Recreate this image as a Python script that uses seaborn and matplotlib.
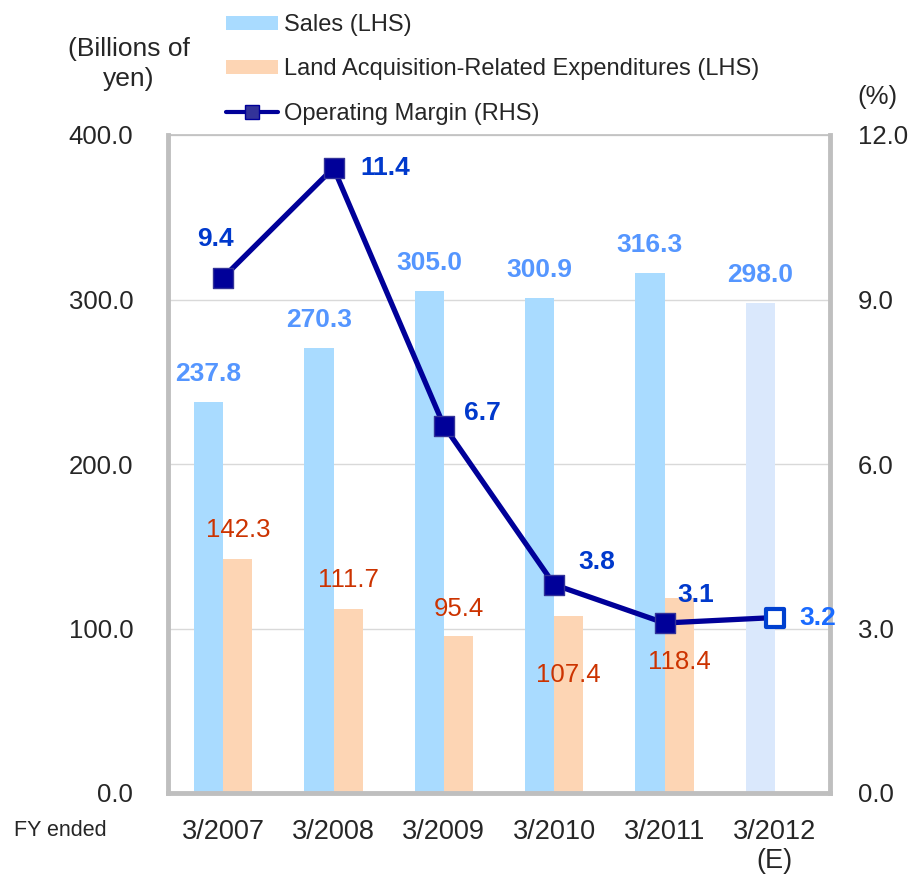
import numpy as np
import pandas as pd
import matplotlib
matplotlib.use('Agg')
import matplotlib.pyplot as plt
import seaborn as sns
from matplotlib.patches import Patch
from matplotlib.lines import Line2D

# values
fy = ['3/2007', '3/2008', '3/2009', '3/2010', '3/2011', '3/2012\n(E)']
sales = [237.8, 270.3, 305.0, 300.9, 316.3, 298.0]
land = [142.3, 111.7, 95.4, 107.4, 118.4, np.nan]
margin = [9.4, 11.4, 6.7, 3.8, 3.1, 3.2]

# label offsets in pixels (dx, dy) relative to the mark
land_dy = [29, 29, 27, -59, -64]
margin_off = [(-8, 39), (52, 0), (39, 13), (43, 23), (31, 28), (43, 0)]

SALES_C = '#A9DBFF'
SALES_E_C = '#DAE8FC'
LAND_C = '#FDD5B4'
LINE_C = '#000099'
GRID_C = '#BFBFBF'
PX = 0.72  # points per pixel at dpi 100


def main():
    sns.set_style('white')
    plt.rcParams['font.family'] = ['Liberation Sans', 'DejaVu Sans']

    df = pd.DataFrame({'fy': fy, 'Sales': sales, 'Land': land})
    long = df.melt(id_vars='fy', var_name='series', value_name='value')

    fig = plt.figure(figsize=(9.1, 8.77), dpi=100)
    ax = fig.add_axes([168 / 910, 1 - 793 / 877, 662 / 910, 658 / 877])

    sns.barplot(data=long, x='fy', y='value', hue='series', order=fy,
                hue_order=['Sales', 'Land'], palette=[SALES_C, LAND_C],
                width=0.53, saturation=1, linewidth=0, legend=False, ax=ax)

    sales_bars = ax.containers[0].patches
    land_bars = ax.containers[1].patches
    sales_bars[-1].set_facecolor(SALES_E_C)

    ax.set_ylim(0, 400)
    ax.set_xlim(-0.5, len(fy) - 0.5)
    ax.set_yticks([0, 100, 200, 300, 400])
    ax.set_yticklabels(['%.1f' % v for v in [0, 100, 200, 300, 400]])
    ax.set_xlabel('')
    ax.set_ylabel('')
    ax.grid(axis='y', color='#D9D9D9', linewidth=1)
    ax.set_axisbelow(True)

    pos = np.arange(len(fy))
    ax.set_xticks(pos)
    ax.set_xticklabels(fy, linespacing=1.15)
    ax.set_xticks(np.arange(-0.5, len(fy)), minor=True)
    ax.tick_params(axis='x', which='major', length=0, pad=19, labelsize=19.5)
    ax.tick_params(axis='x', which='minor', length=5, width=3, color=GRID_C)
    ax.tick_params(axis='y', length=0, pad=25, labelsize=18.5)

    for side in ['left', 'bottom']:
        ax.spines[side].set_color(GRID_C)
        ax.spines[side].set_linewidth(3.5)
    ax.spines['top'].set_color(GRID_C)
    ax.spines['top'].set_linewidth(1.2)
    ax.spines['right'].set_visible(False)

    # bar labels
    for p, v in zip(sales_bars, sales):
        ax.annotate('%.1f' % v, (p.get_x() + p.get_width() / 2, p.get_height()),
                    xytext=(0, 28 * PX), textcoords='offset points',
                    ha='center', va='center', fontsize=19,
                    fontweight='bold', color='#5596FF')
    for p, v, dy in zip(land_bars, land, land_dy):
        ax.annotate('%.1f' % v, (p.get_x() + p.get_width() / 2, p.get_height()),
                    xytext=(0, dy * PX), textcoords='offset points',
                    ha='center', va='center', fontsize=18.5, color='#CC3300')

    # operating margin on the right axis
    ax2 = ax.twinx()
    sns.lineplot(x=pos, y=margin, color=LINE_C, linewidth=3.8, ax=ax2)
    sns.scatterplot(x=pos[:-1], y=margin[:-1], marker='s', s=210,
                    color=LINE_C, edgecolor='#333399', linewidth=1,
                    zorder=4, ax=ax2)
    sns.scatterplot(x=pos[-1:], y=margin[-1:], marker='s', s=150,
                    color='white', edgecolor='#0040D0', linewidth=3,
                    zorder=4, ax=ax2)
    ax2.set_ylim(0, 12)
    ax2.set_yticks([0, 3, 6, 9, 12])
    ax2.set_yticklabels(['%.1f' % v for v in [0, 3, 6, 9, 12]])
    ax2.tick_params(axis='y', length=0, pad=20, labelsize=18.5)
    ax2.set_ylabel('')
    for side in ['left', 'bottom', 'top']:
        ax2.spines[side].set_visible(False)
    ax2.spines['right'].set_color(GRID_C)
    ax2.spines['right'].set_linewidth(3.5)

    for i, (x, v) in enumerate(zip(pos, margin)):
        dx, dy = margin_off[i]
        col = '#1A6BFF' if i == len(pos) - 1 else '#0039CC'
        ax2.annotate('%.1f' % v, (x, v), xytext=(dx * PX, dy * PX),
                     textcoords='offset points', ha='center', va='center',
                     fontsize=19, fontweight='bold', color=col)

    # legend
    handles = [
        Patch(facecolor=SALES_C, edgecolor='none'),
        Patch(facecolor=LAND_C, edgecolor='none'),
        Line2D([0], [0], color=LINE_C, linewidth=3, marker='s',
               markersize=10, markerfacecolor='#333399', markeredgecolor=LINE_C),
    ]
    fig.legend(handles, ['Sales (LHS)',
                         'Land Acquisition-Related Expenditures (LHS)',
                         'Operating Margin (RHS)'],
               loc='upper left', bbox_to_anchor=(226 / 910, 1 - 14 / 877),
               frameon=False, fontsize=17, borderpad=0, borderaxespad=0,
               handlelength=2.2, handleheight=0.55, handletextpad=0.25,
               labelspacing=0.95)

    fig.text(129 / 910, 1 - 64 / 877, '(Billions of\nyen)', ha='center',
             va='center', fontsize=19, linespacing=1.35)
    fig.text(877 / 910, 1 - 97 / 877, '(%)', ha='center', va='center',
             fontsize=18.5)
    fig.text(60 / 910, 1 - 830 / 877, 'FY ended', ha='center', va='center',
             fontsize=15.5)

    fig.savefig('out.png', dpi=100)


if __name__ == '__main__':
    main()
